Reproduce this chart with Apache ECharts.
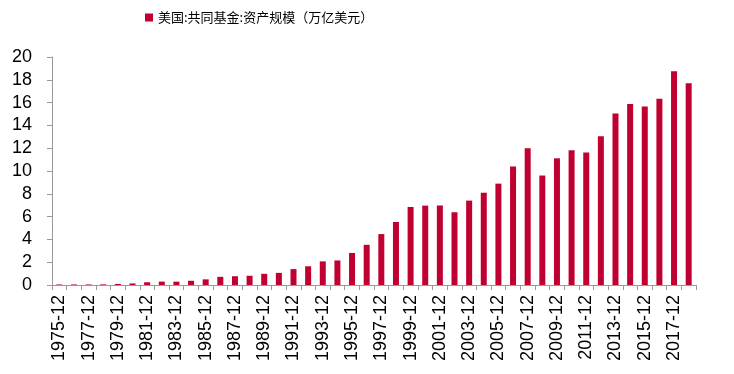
<!DOCTYPE html>
<html>
<head>
<meta charset="utf-8">
<script src="https://cdn.jsdelivr.net/npm/echarts@6/dist/echarts.min.js"></script>
<style>html,body{margin:0;padding:0;background:#fff}#c{width:734px;height:374px}</style>
</head>
<body>
<div id="c"></div>
<script>
var years = [1975,1976,1977,1978,1979,1980,1981,1982,1983,1984,1985,1986,1987,1988,1989,1990,1991,1992,1993,1994,1995,1996,1997,1998,1999,2000,2001,2002,2003,2004,2005,2006,2007,2008,2009,2010,2011,2012,2013,2014,2015,2016,2017,2018];
var categories = years.map(function(y){return y + '-12';});
var assets = [0.046,0.051,0.048,0.056,0.094,0.135,0.241,0.297,0.293,0.371,0.496,0.716,0.770,0.810,0.982,1.065,1.393,1.643,2.070,2.155,2.811,3.526,4.468,5.525,6.846,6.965,6.975,6.383,7.402,8.095,8.891,10.398,12.000,9.603,11.113,11.821,11.627,13.054,15.049,15.873,15.652,16.344,18.746,17.707];
var seriesName = '美国:共同基金:资产规模（万亿美元）';
var yTicks = {min:0, max:20, interval:2};

var chart = echarts.init(document.getElementById('c'));
chart.setOption({
  animation:false,
  backgroundColor:'#fff',
  legend:{
    left:140, top:6,
    itemWidth:8, itemHeight:8, itemGap:4,
    icon:'rect',
    textStyle:{fontFamily:'Noto Sans CJK SC', fontSize:13, color:'#000'},
    data:[seriesName]
  },
  grid:{left:52, right:38, top:57, bottom:89},
  xAxis:{
    type:'category',
    data:categories,
    boundaryGap:true,
    axisLine:{lineStyle:{color:'#999', width:1}},
    axisTick:{show:true, interval:0, length:5, lineStyle:{color:'#999'}},
    axisLabel:{interval:1, rotate:90, margin:10, color:'#000', fontFamily:'Liberation Sans, Arial', fontSize:18}
  },
  yAxis:{
    type:'value',
    min:yTicks.min, max:yTicks.max, interval:yTicks.interval,
    axisLine:{show:true, lineStyle:{color:'#999', width:1}},
    axisTick:{show:true, length:5, lineStyle:{color:'#999'}},
    splitLine:{show:false},
    axisLabel:{margin:20, color:'#000', fontFamily:'Liberation Sans, Arial', fontSize:18}
  },
  series:[{
    name:seriesName,
    type:'bar',
    data:assets,
    barWidth:6,
    itemStyle:{color:'#C00030'}
  }]
});
</script>
</body>
</html>
